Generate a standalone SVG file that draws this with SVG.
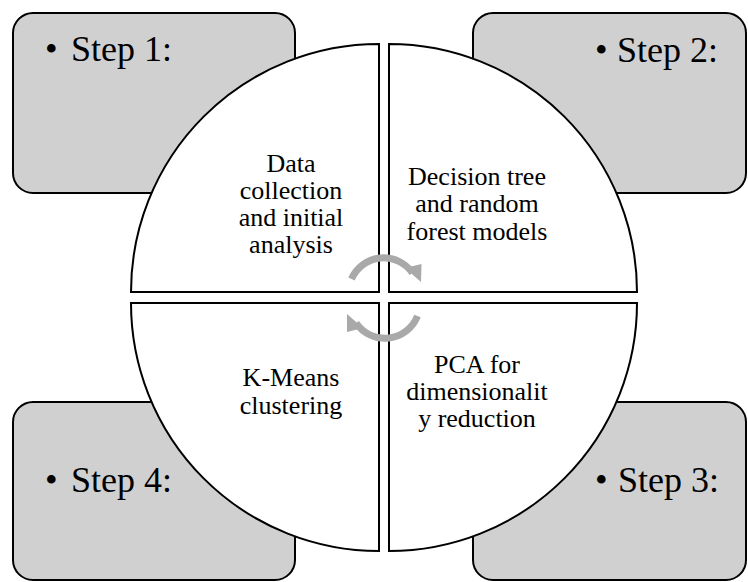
<svg xmlns="http://www.w3.org/2000/svg" width="748" height="582" viewBox="0 0 748 582">
  <style>
    .box { fill: #d0d0d0; stroke: #000; stroke-width: 2; }
    .quad { fill: #fff; stroke: #000; stroke-width: 2; stroke-linejoin: miter; }
    text { font-family: 'Liberation Serif', 'DejaVu Serif', serif; fill: #000; }
    .step { font-size: 36px; }
    .label { font-size: 26px; text-anchor: middle; }
    .cyc { fill: none; stroke: #a9a9a9; stroke-width: 7; }
    .cychead { fill: #a9a9a9; }
  </style>

  <!-- corner step boxes -->
  <g id="step1">
    <rect class="box" x="13" y="13" width="282" height="180" rx="20" ry="20"/>
    <text class="step" x="45" y="61">•</text>
    <text class="step" x="71" y="61">Step 1:</text>
  </g>
  <g id="step2">
    <rect class="box" x="473" y="13" width="273" height="180" rx="20" ry="20"/>
    <text class="step" x="595" y="62">•</text>
    <text class="step" x="617" y="62">Step 2:</text>
  </g>
  <g id="step3">
    <rect class="box" x="473" y="402" width="273" height="178" rx="20" ry="20"/>
    <text class="step" x="595" y="492">•</text>
    <text class="step" x="618" y="492">Step 3:</text>
  </g>
  <g id="step4">
    <rect class="box" x="13" y="402" width="282" height="178" rx="20" ry="20"/>
    <text class="step" x="45" y="492">•</text>
    <text class="step" x="71" y="492">Step 4:</text>
  </g>

  <!-- circle quadrants -->
  <g id="quad-data">
    <path class="quad" d="M379 292 L131 292 A248 248 0 0 1 379 44 Z"/>
    <text class="label" x="291" y="171.5">Data</text>
    <text class="label" x="291" y="198.8">collection</text>
    <text class="label" x="291" y="226.1">and initial</text>
    <text class="label" x="291" y="253.4">analysis</text>
  </g>
  <g id="quad-trees">
    <path class="quad" d="M389 292 L389 44 A248 248 0 0 1 637 292 Z"/>
    <text class="label" x="477" y="185">Decision tree</text>
    <text class="label" x="477" y="212.3">and random</text>
    <text class="label" x="477" y="239.6">forest models</text>
  </g>
  <g id="quad-pca">
    <path class="quad" d="M389 303 L637 303 A248 248 0 0 1 389 551 Z"/>
    <text class="label" x="477" y="372.7">PCA for</text>
    <text class="label" x="477" y="400">dimensionalit</text>
    <text class="label" x="477" y="427.3">y reduction</text>
  </g>
  <g id="quad-kmeans">
    <path class="quad" d="M379 303 L379 551 A248 248 0 0 1 131 303 Z"/>
    <text class="label" x="291" y="386.3">K-Means</text>
    <text class="label" x="291" y="413.6">clustering</text>
  </g>

  <!-- cycle arrows in the centre -->
  <g id="connectors">
    <path class="cyc" d="M351.5 279 A35 35 0 0 1 412.5 273"/>
    <polygon class="cychead" points="405,268 421,282 421.5,264"/>
    <path class="cyc" d="M417.5 316 A35 35 0 0 1 356 323"/>
    <polygon class="cychead" points="363,328 347,314 347,332"/>
  </g>
</svg>
